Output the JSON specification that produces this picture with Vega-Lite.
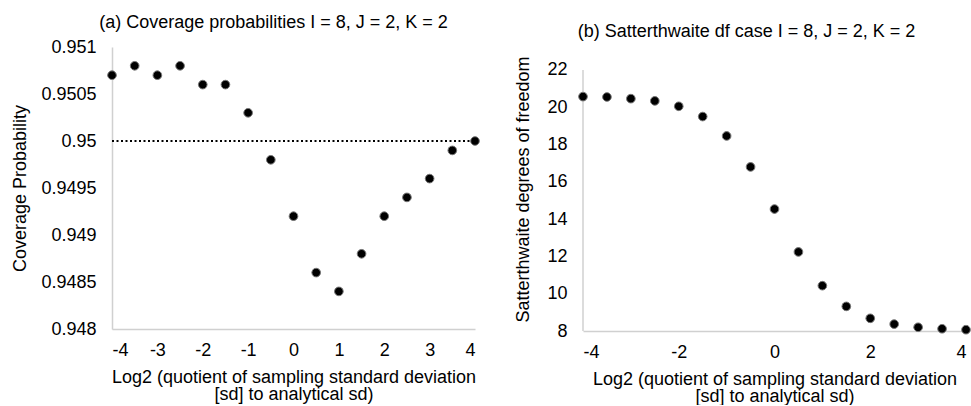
{
  "$schema": "https://vega.github.io/schema/vega-lite/v6.json",
  "background": "white",
  "padding": {"left": 11, "top": 14, "right": 2, "bottom": 0},
  "spacing": 32,
  "config": {
    "font": "Liberation Sans",
    "view": {"stroke": null},
    "axis": {
      "grid": false, "ticks": false, "tickSize": 0,
      "domainColor": "#d0d0d0", "domainWidth": 1.5,
      "labelFont": "Liberation Sans", "labelFontSize": 18, "labelColor": "#000",
      "titleFont": "Liberation Sans", "titleFontSize": 18, "titleFontWeight": "normal", "titleColor": "#000"
    },
    "title": {"font": "Liberation Sans", "fontSize": 18, "fontWeight": "normal", "color": "#000"}
  },
  "datasets": {
    "cov": [
      {"x": -4, "y": 0.9507}, {"x": -3.5, "y": 0.9508}, {"x": -3, "y": 0.9507}, {"x": -2.5, "y": 0.9508},
      {"x": -2, "y": 0.9506}, {"x": -1.5, "y": 0.9506}, {"x": -1, "y": 0.9503}, {"x": -0.5, "y": 0.9498},
      {"x": 0, "y": 0.9492}, {"x": 0.5, "y": 0.9486}, {"x": 1, "y": 0.9484}, {"x": 1.5, "y": 0.9488},
      {"x": 2, "y": 0.9492}, {"x": 2.5, "y": 0.9494}, {"x": 3, "y": 0.9496}, {"x": 3.5, "y": 0.9499},
      {"x": 4, "y": 0.95}
    ],
    "df": [
      {"x": -4, "y": 20.57}, {"x": -3.5, "y": 20.55}, {"x": -3, "y": 20.46}, {"x": -2.5, "y": 20.34},
      {"x": -2, "y": 20.05}, {"x": -1.5, "y": 19.5}, {"x": -1, "y": 18.46}, {"x": -0.5, "y": 16.8},
      {"x": 0, "y": 14.54}, {"x": 0.5, "y": 12.24}, {"x": 1, "y": 10.43}, {"x": 1.5, "y": 9.32},
      {"x": 2, "y": 8.68}, {"x": 2.5, "y": 8.37}, {"x": 3, "y": 8.2}, {"x": 3.5, "y": 8.12},
      {"x": 4, "y": 8.07}
    ],
    "ref": [{"x": -4, "x2": 4, "y": 0.95}],
    "yline": [{"x": -4, "y": 8, "y2": 22}]
  },
  "hconcat": [
    {
      "width": 363, "height": 282,
      "title": {"text": "(a) Coverage probabilities I = 8, J = 2, K = 2", "offset": 6, "dx": -20},
      "layer": [
        {
          "data": {"name": "ref"},
          "mark": {"type": "rule", "color": "#000", "strokeWidth": 2, "strokeDash": [2, 2.5]},
          "encoding": {
            "x": {"field": "x", "type": "quantitative"},
            "x2": {"field": "x2"},
            "y": {"field": "y", "type": "quantitative"}
          }
        },
        {
          "data": {"name": "cov"},
          "mark": {"type": "point", "filled": true, "fill": "#000", "stroke": "#777", "strokeWidth": 1, "size": 75, "opacity": 1},
          "encoding": {
            "x": {"field": "x", "type": "quantitative",
              "scale": {"domain": [-4, 4], "nice": false},
              "axis": {"values": [-4, -3, -2, -1, 0, 1, 2, 3, 4], "labelExpr": "'' + datum.value", "labelPadding": 12, "titlePadding": 9,
                "title": ["Log2 (quotient of sampling standard deviation", "[sd] to analytical sd)"], "titleLineHeight": 17}},
            "y": {"field": "y", "type": "quantitative",
              "scale": {"domain": [0.948, 0.951], "nice": false, "zero": false},
              "axis": {"values": [0.948, 0.9485, 0.949, 0.9495, 0.95, 0.9505, 0.951], "format": "~g", "labelPadding": 16, "titlePadding": 11,
                "title": "Coverage Probability"}}
          }
        }
      ]
    },
    {
      "width": 383, "height": 284,
      "title": {"text": "(b) Satterthwaite df case I = 8, J = 2, K = 2", "offset": 6, "dx": -28},
      "layer": [
        {
          "data": {"name": "yline"},
          "mark": {"type": "rule", "color": "#d0d0d0", "strokeWidth": 1.5},
          "encoding": {
            "x": {"field": "x", "type": "quantitative"},
            "y": {"field": "y", "type": "quantitative"},
            "y2": {"field": "y2"}
          }
        },
        {
          "data": {"name": "df"},
          "mark": {"type": "point", "filled": true, "fill": "#000", "stroke": "#777", "strokeWidth": 1, "size": 75, "opacity": 1},
          "encoding": {
            "x": {"field": "x", "type": "quantitative",
              "scale": {"domain": [-4, 4], "nice": false},
              "axis": {"values": [-4, -2, 0, 2, 4], "labelExpr": "'' + datum.value", "labelPadding": 12, "titlePadding": 9,
                "title": ["Log2 (quotient of sampling standard deviation", "[sd] to analytical sd)"], "titleLineHeight": 17}},
            "y": {"field": "y", "type": "quantitative",
              "scale": {"domain": [8, 23.23], "nice": false, "zero": false},
              "axis": {"values": [8, 10, 12, 14, 16, 18, 20, 22], "domain": false, "labelPadding": 16, "titlePadding": 14,
                "title": "Satterthwaite degrees of freedom"}}
          }
        }
      ]
    }
  ]
}
